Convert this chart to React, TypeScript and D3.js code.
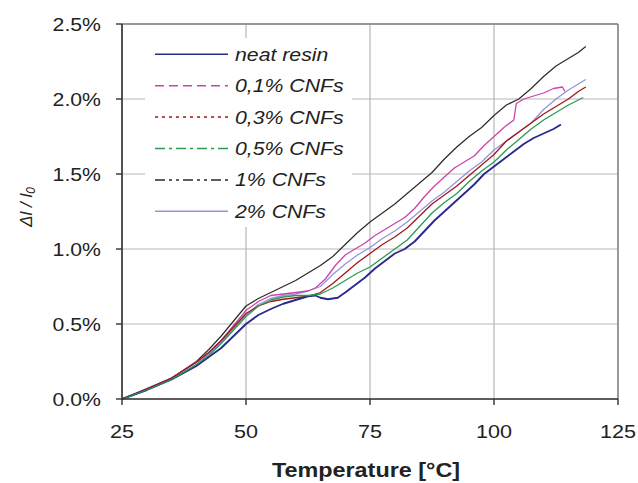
import React from 'react';
import * as d3 from 'd3';

const tempTicks = [25, 50, 75, 100, 125];
const strainTicks = [0, 0.5, 1.0, 1.5, 2.0, 2.5];
const seriesLabels = ['neat resin', '0,1% CNFs', '0,3% CNFs', '0,5% CNFs', '1% CNFs', '2% CNFs'];

type P = [number, number];

const neatResin: P[] = [[25,0],[27.5,0.03],[30,0.06],[32.5,0.095],[35,0.13],[37.5,0.175],[40,0.22],[42.5,0.28],[45,0.34],[47.5,0.42],[50,0.5],[52.5,0.56],[55,0.6],[57.5,0.635],[60,0.66],[62.5,0.685],[64,0.69],[65,0.675],[66.5,0.665],[68.5,0.675],[70,0.71],[72,0.76],[74,0.81],[76,0.87],[78,0.92],[80,0.97],[82,1.0],[84,1.05],[86,1.12],[88,1.19],[90,1.25],[92,1.31],[94,1.37],[96,1.43],[98,1.5],[100,1.55],[102,1.6],[104,1.65],[106,1.7],[108,1.74],[110,1.77],[112,1.8],[113.5,1.83]];
const cnf01: P[] = [[25,0],[30,0.065],[35,0.14],[40,0.245],[42.5,0.31],[45,0.39],[47.5,0.49],[50,0.59],[52.5,0.65],[55,0.69],[57.5,0.7],[60,0.71],[62.5,0.72],[64,0.74],[66,0.8],[68,0.89],[70,0.96],[72,1.0],[74,1.04],[76,1.09],[78,1.13],[80,1.17],[82,1.21],[84,1.27],[86,1.35],[88,1.42],[90,1.48],[92,1.54],[94,1.58],[96,1.62],[98,1.69],[100,1.75],[102,1.81],[104,1.86],[104.5,1.97],[106,2.0],[108,2.02],[110,2.04],[112,2.07],[113.8,2.08],[114.3,2.05]];
const cnf03: P[] = [[25,0],[30,0.07],[35,0.14],[40,0.245],[42.5,0.31],[45,0.39],[47.5,0.48],[50,0.57],[52.5,0.62],[55,0.65],[57.5,0.665],[60,0.675],[62.5,0.685],[65,0.71],[67.5,0.77],[70,0.84],[72.5,0.91],[75,0.97],[77.5,1.03],[80,1.08],[82.5,1.14],[85,1.22],[87.5,1.3],[90,1.36],[92.5,1.42],[95,1.49],[97.5,1.56],[100,1.63],[102.5,1.72],[105,1.78],[107.5,1.84],[110,1.9],[112.5,1.95],[115,2.0],[117,2.05],[118.5,2.08]];
const cnf05: P[] = [[25,0],[30,0.06],[35,0.13],[40,0.23],[42.5,0.29],[45,0.37],[47.5,0.46],[50,0.55],[52.5,0.62],[55,0.66],[57.5,0.68],[60,0.69],[62.5,0.69],[65,0.7],[67.5,0.74],[70,0.79],[72.5,0.84],[75,0.88],[77.5,0.94],[80,1.0],[82.5,1.06],[85,1.15],[87.5,1.24],[90,1.31],[92.5,1.37],[95,1.45],[97.5,1.52],[100,1.58],[102.5,1.66],[105,1.73],[107.5,1.8],[110,1.86],[112.5,1.91],[115,1.96],[118,2.01]];
const cnf1: P[] = [[25,0],[30,0.065],[35,0.14],[40,0.25],[42.5,0.33],[45,0.42],[47.5,0.52],[50,0.62],[52.5,0.67],[55,0.71],[57.5,0.75],[60,0.79],[62.5,0.84],[65,0.89],[67.5,0.95],[70,1.03],[72.5,1.11],[75,1.18],[77.5,1.24],[80,1.3],[82.5,1.37],[85,1.44],[87.5,1.51],[90,1.6],[92.5,1.68],[95,1.75],[97.5,1.81],[100,1.89],[102.5,1.96],[105,2.0],[107.5,2.07],[110,2.15],[112.5,2.22],[115,2.27],[117,2.31],[118.5,2.35]];
const cnf2: P[] = [[25,0],[30,0.06],[35,0.13],[40,0.23],[42.5,0.3],[45,0.38],[47.5,0.47],[50,0.56],[52.5,0.63],[55,0.67],[57.5,0.69],[60,0.7],[62.5,0.72],[65,0.75],[67.5,0.83],[70,0.9],[72.5,0.96],[75,1.01],[77.5,1.07],[80,1.12],[82.5,1.18],[85,1.25],[87.5,1.32],[90,1.38],[92.5,1.45],[95,1.52],[97.5,1.58],[100,1.66],[102.5,1.72],[105,1.78],[107.5,1.84],[110,1.93],[112.5,2.0],[115,2.06],[117,2.1],[118.5,2.13]];

const seriesData = [neatResin, cnf01, cnf03, cnf05, cnf1, cnf2];
const seriesColors = ['#2a2a8c', '#cc44aa', '#a01818', '#2a9a50', '#2a2a2a', '#9494dc'];
const legendDash = ['none', '9,5', '3,4', '10,4,3,4', '10,4,3,4,3,4', 'none'];
const seriesWidth = [1.9, 1.3, 1.3, 1.3, 1.2, 1.3];
const drawOrder = [5, 4, 1, 2, 0, 3];

const FONT = 'Liberation Sans, Arial, Helvetica, sans-serif';

export default function App() {
  const W = 638, H = 483;
  const x = d3.scaleLinear().domain([25, 125]).range([122, 618]);
  const y = d3.scaleLinear().domain([0, 2.5]).range([399, 24]);
  const line = d3.line<P>().x(d => x(d[0])).y(d => y(d[1]));
  const [x0, x1] = x.range();
  const [y0, y1] = y.range();

  return (
    <svg width={W} height={H} style={{ position: 'absolute', left: 0, top: 0, background: '#fff' }}>
      <rect x={0} y={0} width={W} height={H} fill="#fff" />
      {tempTicks.map(t => (
        <line key={'gx' + t} x1={x(t)} x2={x(t)} y1={y1} y2={y0} stroke="#b8b8b8" strokeWidth={1.2} />
      ))}
      {strainTicks.map(t => (
        <line key={'gy' + t} x1={x0} x2={x1} y1={y(t)} y2={y(t)} stroke="#b8b8b8" strokeWidth={1.2} />
      ))}
      <line x1={x0} x2={x1} y1={y1} y2={y1} stroke="#808080" strokeWidth={1.4} />
      <line x1={x1} x2={x1} y1={y1} y2={y0} stroke="#808080" strokeWidth={1.4} />
      <rect x={145} y={38} width={207} height={189} fill="#fff" />
      {drawOrder.map(i => (
        <path key={'s' + i} d={line(seriesData[i]) || ''} fill="none" stroke={seriesColors[i]}
          strokeWidth={seriesWidth[i]} strokeLinejoin="round" />
      ))}
      <line x1={x0} x2={x0} y1={y1} y2={y0} stroke="#333" strokeWidth={1.6} />
      <line x1={x0} x2={x1} y1={y0} y2={y0} stroke="#333" strokeWidth={1.6} />
      {strainTicks.map(t => (
        <g key={'ty' + t}>
          <line x1={x0 - 6} x2={x0} y1={y(t)} y2={y(t)} stroke="#333" strokeWidth={1.4} />
          <text transform={`translate(101,${y(t) + 6.5}) scale(1.18,1)`} textAnchor="end"
            fontFamily={FONT} fontSize={18} fill="#222">{t.toFixed(1) + '%'}</text>
        </g>
      ))}
      {tempTicks.map(t => (
        <g key={'tx' + t}>
          <line x1={x(t)} x2={x(t)} y1={y0} y2={y0 + 6} stroke="#333" strokeWidth={1.4} />
          <text transform={`translate(${x(t)},438) scale(1.2,1)`} textAnchor="middle"
            fontFamily={FONT} fontSize={18} fill="#222">{t}</text>
        </g>
      ))}
      <text transform="translate(366,477) scale(1.2,1)" textAnchor="middle" fontFamily={FONT}
        fontSize={19.5} fontWeight="bold" fill="#222">Temperature [°C]</text>
      <text transform="translate(32,207) rotate(-90)" textAnchor="middle" fontFamily={FONT}
        fontSize={17} fontStyle="italic" fill="#222">
        Δ<tspan>l / l</tspan><tspan fontSize={12} dy={3}>0</tspan>
      </text>
      {seriesLabels.map((lab, i) => {
        const ly = 54.3 + i * 31.4;
        return (
          <g key={'lg' + i}>
            <line x1={155} x2={228} y1={ly} y2={ly} stroke={seriesColors[i]} strokeWidth={1.5}
              strokeDasharray={legendDash[i] === 'none' ? undefined : legendDash[i]} />
            <text transform={`translate(235,${ly + 6.5}) scale(1.15,1)`} fontFamily={FONT}
              fontSize={18.5} fontStyle="italic" fill="#222">{lab}</text>
          </g>
        );
      })}
    </svg>
  );
}
